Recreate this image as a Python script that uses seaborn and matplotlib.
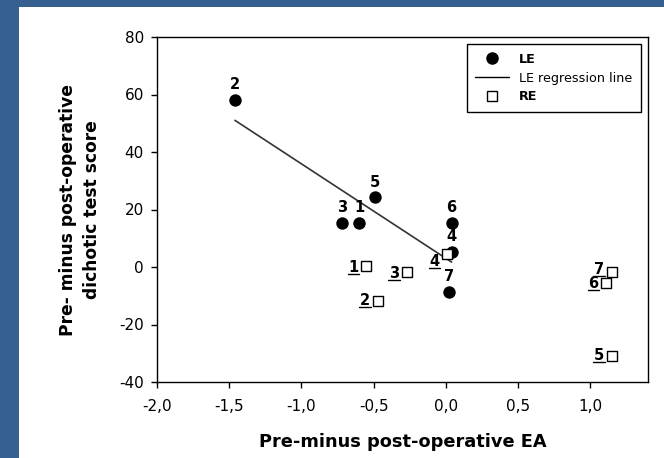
import numpy as np
import pandas as pd
import matplotlib
matplotlib.use("Agg")
import matplotlib.pyplot as plt
import matplotlib.transforms as mtransforms
import seaborn as sns
from matplotlib.lines import Line2D
from matplotlib.patches import Rectangle

# ==================== data ====================
le_ids = ["1", "2", "3", "4", "5", "6", "7"]
le_x = [-0.60, -1.46, -0.72, 0.04, -0.49, 0.04, 0.02]
le_y = [15.4, 58.2, 15.4, 5.3, 24.2, 15.4, -8.6]

re_ids = ["1", "2", "3", "4", "5", "6", "7"]
re_x = [-0.55, -0.47, -0.27, 0.01, 1.15, 1.11, 1.15]
re_y = [0.4, -11.8, -1.7, 4.5, -30.9, -5.7, -1.8]

x_ticks = [-2.0, -1.5, -1.0, -0.5, 0.0, 0.5, 1.0]
x_ticklabels = ["-2,0", "-1,5", "-1,0", "-0,5", "0,0", "0,5", "1,0"]
y_ticks = [-40, -20, 0, 20, 40, 60, 80]

le = pd.DataFrame({"id": le_ids, "x": le_x, "y": le_y})
re = pd.DataFrame({"id": re_ids, "x": re_x, "y": re_y})

# how far (px, downwards) each RE number sits from its square's centre
re_label_dy = [2, 0, 2, 7, 0, 0, -3]

# ==================== style ====================
sns.set_theme(style="ticks")
plt.rcParams["font.family"] = ["DejaVu Sans"]
plt.rcParams["axes.unicode_minus"] = False
plt.rcParams["text.color"] = "black"
plt.rcParams["axes.labelcolor"] = "black"

BLUE = "#36608f"

fig = plt.figure(figsize=(6.64, 4.58), dpi=100, facecolor="white")
# blue frame: left band and top band
fig.patches.append(Rectangle((0, 0), 19 / 664, 1, transform=fig.transFigure,
                             facecolor=BLUE, edgecolor="none"))
fig.patches.append(Rectangle((0, 1 - 7 / 458), 1, 7 / 458, transform=fig.transFigure,
                             facecolor=BLUE, edgecolor="none"))
ax = fig.add_axes([157 / 664, 1 - 382 / 458, (648 - 157) / 664, (382 - 37) / 458])
ax.set_facecolor("white")
ax.set_xlim(-2.0, 1.4)
ax.set_ylim(-40, 80)

# LE points + regression line
sns.scatterplot(data=le, x="x", y="y", ax=ax, marker="o", s=80, color="black",
                edgecolor="black", linewidth=0, zorder=3)
sns.regplot(data=le, x="x", y="y", ax=ax, scatter=False, ci=None, truncate=True,
            line_kws={"color": "#333333", "lw": 1.2, "zorder": 2})
# RE points
sns.scatterplot(data=re, x="x", y="y", ax=ax, marker="s", s=48, facecolor="white",
                edgecolor="black", linewidth=1, zorder=4)

ax.set_xlim(-2.0, 1.4)
ax.set_ylim(-40, 80)

# point labels
for i, row in le.iterrows():
    ax.annotate(row["id"], (row["x"], row["y"]), xytext=(0, 11), textcoords="offset points",
                ha="center", va="center", fontsize=10.5, fontweight="bold", zorder=5)
for i, row in re.iterrows():
    dy = re_label_dy[i]
    ax.annotate(row["id"], (row["x"], row["y"]), xytext=(-5.5, -dy * 0.72),
                textcoords="offset points", ha="right", va="center",
                fontsize=10.5, fontweight="bold", zorder=5)
    # underline under the RE number (pixel coords)
    px, py = ax.transData.transform((row["x"], row["y"]))
    ax.add_line(Line2D([px - 18.5, px - 7], [py - 6.5 - dy, py - 6.5 - dy], color="black",
                       lw=1, transform=mtransforms.IdentityTransform(), clip_on=False,
                       zorder=5))

ax.set_xticks(x_ticks)
ax.set_xticklabels(x_ticklabels)
ax.set_yticks(y_ticks)
ax.tick_params(direction="out", length=4, width=1, labelsize=11, colors="black")
ax.tick_params(axis="x", pad=8)
ax.tick_params(axis="y", pad=5.5)
for sp in ax.spines.values():
    sp.set_color("black")
    sp.set_linewidth(1)

ax.set_xlabel("Pre-minus post-operative EA", fontsize=12.8, fontweight="bold", labelpad=14)
ax.set_ylabel("Pre- minus post-operative\ndichotic test score", fontsize=12.3,
              fontweight="bold", labelpad=13, linespacing=1.45)

handles = [
    Line2D([], [], marker="o", color="black", linestyle="none", markersize=8),
    Line2D([], [], color="black", lw=1),
    Line2D([], [], marker="s", markerfacecolor="white", markeredgecolor="black",
           linestyle="none", markersize=6.5),
]
leg = ax.legend(handles, ["LE", "LE regression line", "RE"], loc="upper right",
                bbox_to_anchor=(0.986, 0.98), fontsize=9.2, frameon=True, fancybox=False,
                edgecolor="black", framealpha=1, handlelength=2.6, handletextpad=0.8,
                borderpad=0.7, labelspacing=0.45, borderaxespad=0)
leg.get_frame().set_linewidth(1)
for t, w in zip(leg.get_texts(), ["bold", "normal", "bold"]):
    t.set_fontweight(w)

fig.savefig("out.png", dpi=100, facecolor="white")
